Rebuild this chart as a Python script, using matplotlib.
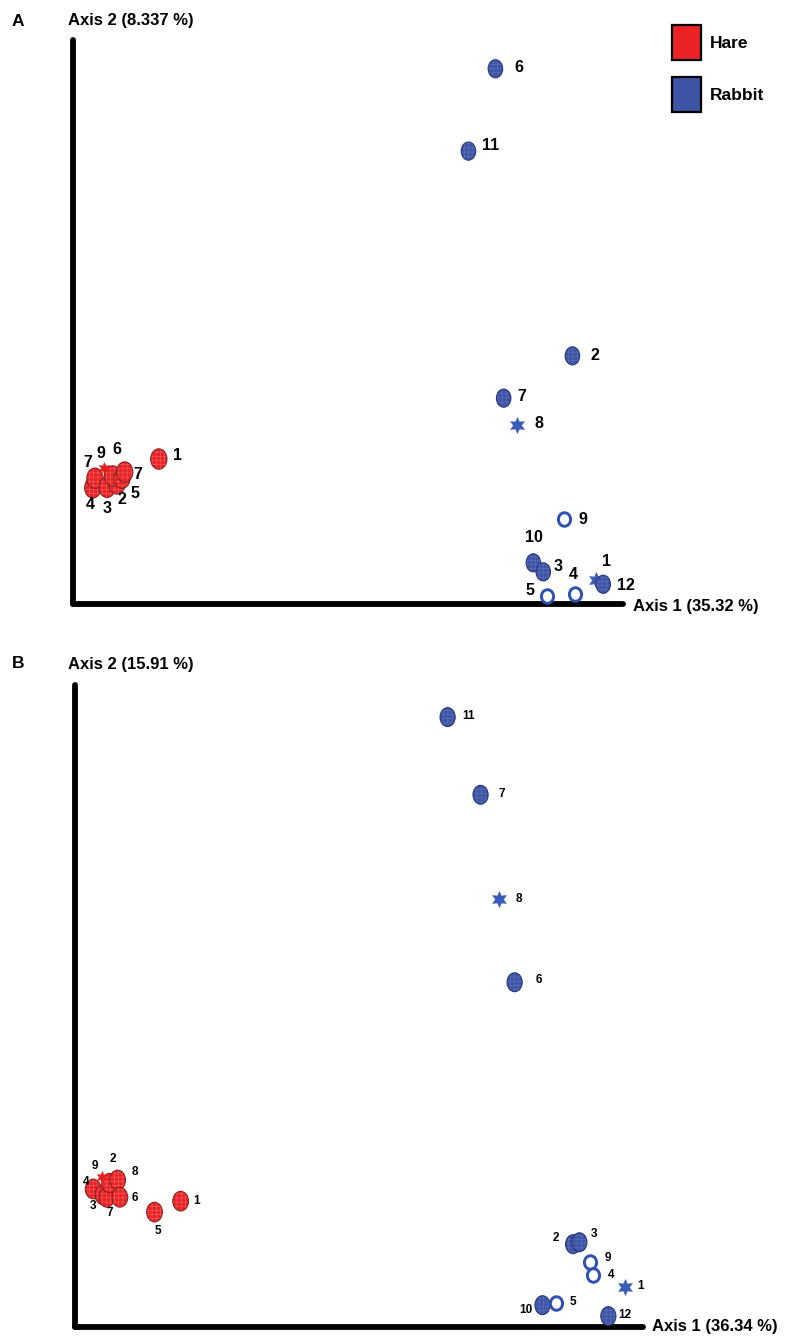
import matplotlib
matplotlib.use('Agg')
import matplotlib.pyplot as plt
from matplotlib.path import Path
from matplotlib.patches import Rectangle

plt.rcParams['font.family'] = ['Liberation Sans', 'DejaVu Sans']
plt.rcParams['hatch.linewidth'] = 0.35

# ---------------- data (scores scaled 0-100 along each axis) ----------------
# Panel A
a_axis1 = 'Axis 1 (35.32 %)'
a_axis2 = 'Axis 2 (8.337 %)'
a_hare_id = ['4', '7', '3', '2', '6', '5', '7', '9', '1']
a_hare_x = [3.6, 4.0, 6.2, 8.0, 7.2, 8.9, 9.4, 5.6, 15.6]
a_hare_y = [20.6, 22.3, 20.7, 21.3, 22.7, 22.3, 23.4, 24.1, 25.7]
a_hare_type = ['f', 'f', 'f', 'f', 'f', 'f', 'f', 's', 'f']
a_rab_id = ['6', '11', '2', '7', '8', '9', '10', '3', '5', '4', '1', '12']
a_rab_x = [76.8, 71.9, 90.8, 78.3, 80.8, 89.3, 83.7, 85.5, 86.1, 91.3, 95.1, 96.4]
a_rab_y = [94.9, 80.3, 44.0, 36.5, 31.7, 15.1, 7.3, 5.7, 1.4, 1.8, 4.3, 3.5]
a_rab_type = ['f', 'f', 'f', 'f', 's', 'o', 'f', 'f', 'o', 'o', 's', 'f']

# Panel B
b_axis1 = 'Axis 1 (36.34 %)'
b_axis2 = 'Axis 2 (15.91 %)'
b_hare_id = ['4', '3', '7', '2', '9', '8', '6', '5', '1']
b_hare_x = [3.2, 4.9, 5.6, 6.1, 4.7, 7.5, 7.9, 14.0, 18.6]
b_hare_y = [21.5, 20.6, 20.2, 22.4, 23.4, 22.9, 20.2, 17.9, 19.6]
b_hare_type = ['f', 'f', 'f', 'f', 's', 'f', 'f', 'f', 'f']
b_rab_id = ['11', '7', '8', '6', '2', '3', '9', '4', '1', '10', '5', '12']
b_rab_x = [65.6, 71.4, 74.7, 77.4, 87.7, 88.8, 90.7, 91.2, 96.8, 82.3, 84.6, 93.9]
b_rab_y = [95.0, 82.9, 66.7, 53.7, 12.9, 13.2, 10.1, 8.1, 6.2, 3.4, 3.7, 1.7]
b_rab_type = ['f', 'f', 's', 'f', 'f', 'f', 'o', 'o', 's', 'f', 'o', 'f']

legend_names = ['Hare', 'Rabbit']

# ---------------- label offsets (pixels) ----------------
a_hare_off = [(-3, -17), (-7, 16), (0, -21), (5, -16), (4, 26), (13, -15), (13, -2), (-3, 15), (19, 4)]
a_rab_off = [(23, 1), (22, 6), (23, 0), (18, 2), (22, 2), (19, -1), (1, 25), (15, 5),
             (-17, 6), (-2, 19), (10, 18), (23, -1)]
b_hare_off = [(-7, 7), (-10, -11), (3, -16), (3, 24), (-7, 11), (17, 8), (15, -1), (3, -19), (16, 0)]
b_rab_off = [(21, 1), (21, 1), (20, 0), (24, 2), (-17, 6), (15, 8), (18, 4), (18, 0), (16, 1),
             (-17, -5), (17, 1), (16, 1)]

# ---------------- styles ----------------
W, H = 792, 1336
HARE_FILL, HARE_EDGE, HARE_HATCH = '#EC2326', '#8A2020', '#F26A6A'
RAB_FILL, RAB_EDGE, RAB_HATCH = '#3E55A6', '#26357A', '#6376BC'
STAR_BLUE = '#3A5CB8'
OPEN_EDGE = '#2E50B2'

circ = Path.unit_circle()
ell = Path(circ.vertices * [0.8, 1.0], circ.codes)
ell_open = Path(circ.vertices * [0.9, 1.0], circ.codes)

fig = plt.figure(figsize=(W / 100, H / 100), dpi=100)


def make_ax(x0, y_bottom, x1, y_top):
    ax = fig.add_axes([x0 / W, 1 - y_bottom / H, (x1 - x0) / W, (y_bottom - y_top) / H])
    ax.set_xlim(0, 100)
    ax.set_ylim(0, 100)
    ax.axis('off')
    ax.plot([0, 0], [0, 1], transform=ax.transAxes, color='black', lw=4.2,
            solid_capstyle='round', clip_on=False, zorder=1)
    ax.plot([0, 1], [0, 0], transform=ax.transAxes, color='black', lw=4.2,
            solid_capstyle='round', clip_on=False, zorder=1)
    return ax


def draw_group(ax, ids, xs, ys, kinds, offs, fill, edge, hatchc, star_col,
               s_fill, s_star, s_open, fs, z0):
    z = z0
    for lab, x, y, k, off in zip(ids, xs, ys, kinds, offs):
        if k == 'f':
            ax.scatter([x], [y], s=s_fill, marker=ell, facecolor=fill, edgecolor=hatchc,
                       linewidths=0, hatch='++++', zorder=z, clip_on=False)
            ax.scatter([x], [y], s=s_fill, marker=ell, facecolor='none', edgecolor=edge,
                       linewidths=0.8, zorder=z + 0.1, clip_on=False)
        elif k == 's':
            ax.scatter([x], [y], s=s_star, marker=(6, 1, 0), facecolor=star_col,
                       edgecolor=star_col, linewidths=0.3, zorder=z, clip_on=False)
        else:
            ax.scatter([x], [y], s=s_open, marker=ell_open, facecolor='white',
                       edgecolor=OPEN_EDGE, linewidths=2.1, zorder=z, clip_on=False)
        ax.annotate(lab, (x, y), xytext=off, textcoords='offset pixels', ha='center',
                    va='center', fontsize=fs, fontweight='bold', zorder=50,
                    annotation_clip=False)
        z += 1


# Panel A
axA = make_ax(73, 604, 623, 40)
draw_group(axA, a_hare_id, a_hare_x, a_hare_y, a_hare_type, a_hare_off,
           HARE_FILL, HARE_EDGE, HARE_HATCH, '#E82020', 215, 75, 90, 11.5, 5)
draw_group(axA, a_rab_id, a_rab_x, a_rab_y, a_rab_type, a_rab_off,
           RAB_FILL, RAB_EDGE, RAB_HATCH, STAR_BLUE, 170, 135, 95, 11.5, 20)

# Panel B
axB = make_ax(75, 1327, 643, 685)
draw_group(axB, b_hare_id, b_hare_x, b_hare_y, b_hare_type, b_hare_off,
           HARE_FILL, HARE_EDGE, HARE_HATCH, '#E82020', 200, 75, 90, 8.5, 5)
draw_group(axB, b_rab_id, b_rab_x, b_rab_y, b_rab_type, b_rab_off,
           RAB_FILL, RAB_EDGE, RAB_HATCH, STAR_BLUE, 185, 135, 95, 8.5, 20)


def ftext(x, y, s, size, ha='left'):
    fig.text(x / W, 1 - y / H, s, fontsize=size, fontweight='bold', ha=ha, va='center')


ftext(12, 21, 'A', 12.5)
ftext(68, 21, a_axis2, 12)
ftext(633, 607, a_axis1, 12)
ftext(12, 664, 'B', 12.5)
ftext(68, 664, b_axis2, 12)
ftext(652, 1327, b_axis1, 12)

# Legend
for (name, col, ytop) in zip(legend_names, [HARE_FILL, RAB_FILL], [25, 77]):
    fig.add_artist(Rectangle((672 / W, 1 - (ytop + 35) / H), 29 / W, 35 / H,
                             transform=fig.transFigure, facecolor=col,
                             edgecolor='black', linewidth=1.6))
    ftext(710, ytop + 18, name, 12.5)

fig.savefig('out.png', dpi=100)
